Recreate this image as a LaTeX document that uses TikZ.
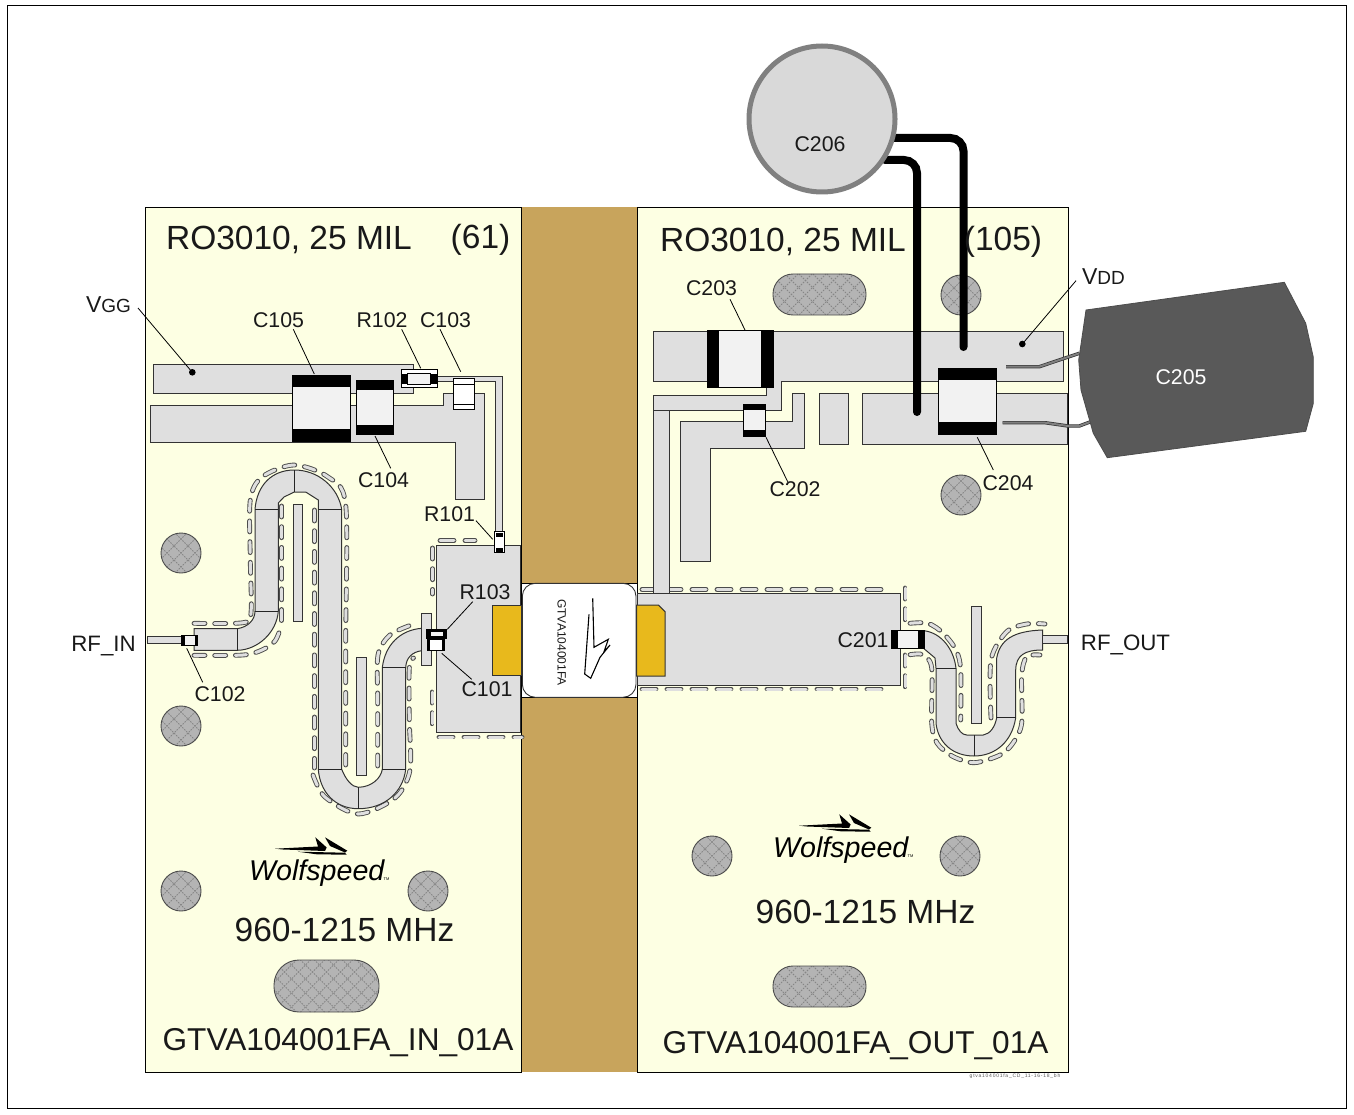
\documentclass[tikz,border=0pt]{standalone}
\usepackage{fontspec}
\setmainfont{Liberation Sans}
\definecolor{board}{HTML}{FDFFE3}
\definecolor{brownc}{HTML}{C8A45C}
\definecolor{goldc}{HTML}{E8B91C}
\definecolor{tracec}{HTML}{DFDFDF}
\definecolor{bodyc}{HTML}{F2F2F2}
\definecolor{viac}{HTML}{B4B4B4}
\definecolor{hatchc}{HTML}{868686}
\definecolor{capg}{HTML}{595959}
\tikzset{
  boardbox/.style={fill=board,draw=black,line width=1},
  trace/.style={fill=tracec,draw=black!80,line width=1},
  divider/.style={draw=black!85,line width=1},
  partbody/.style={fill=bodyc,draw=black,line width=1},
  partwhite/.style={fill=white,draw=black,line width=1},
  partcap/.style={fill=black},
  goldpad/.style={fill=goldc,draw=black!80,line width=1},
  leader/.style={draw=black,line width=0.8},
  slot/.style={draw=black!70,line width=4.8,line cap=round,dash pattern=on 11 off 9.7,
     postaction={draw=tracec,line width=3,line cap=round,dash pattern=on 11 off 9.7}},
  slotlong/.style={draw=black!70,line width=4.8,line cap=round,dash pattern=on 14 off 11,
     postaction={draw=tracec,line width=3,line cap=round,dash pattern=on 14 off 11}},
  wire/.style={draw=black,line width=8,line cap=round,rounded corners=13},
  lead/.style={draw=black!80,line width=3.4,postaction={draw=black!50,line width=2}},
  lab/.style={font=\fontsize{21.3}{24}\selectfont,text=black!90,inner sep=0},
  big/.style={font=\fontsize{33.5}{38}\selectfont,text=black!90,inner sep=0},
  bigcode/.style={font=\fontsize{31.6}{38}\selectfont,text=black!90,inner sep=0},
  rflab/.style={font=\fontsize{22.3}{24}\selectfont,text=black!90,inner sep=0},
  vlab/.style={font=\fontsize{23}{24}\selectfont,text=black!90,inner sep=0},
}
\newcommand{\hatched}[3]{%
  \fill[viac] #3;
  \begin{scope}
    \clip #3;
    \foreach \k in {-7,...,7}{
      \draw[hatchc,line width=0.8,dash pattern=on 1.6 off 1.2] ({#1+\k*14-70},{#2-70}) -- ({#1+\k*14+70},{#2+70});
      \draw[hatchc,line width=0.8,dash pattern=on 1.6 off 1.2] ({#1+\k*14+70},{#2-70}) -- ({#1+\k*14-70},{#2+70});
    }
  \end{scope}
  \draw[black!70,line width=0.9] #3;
}
\newcommand{\via}[2]{\hatched{#1}{#2}{(#1,#2) circle[radius=20]}}
\newcommand{\oblong}[5]{\hatched{(#1+#3)/2}{(#2+#4)/2}{[rounded corners=#5] (#1,#2) rectangle (#3,#4)}}
\newcommand{\logo}[3]{%
  \begin{scope}[shift={(#1,#2)}]
    \fill[black] (275,848.7) -- (318,846.5) -- (315.3,837.3) -- (326.7,847.5) -- (325,851) -- (283,849.5) -- cycle;
    \fill[black] (325,837.3) -- (347.3,850.7) -- (345,852.5) -- (330,846) -- cycle;
    \fill[black] (298,851.7) -- (345,852.7) -- (346.7,854.7) -- (316.7,854.3) -- cycle;
    \node[inner sep=0,anchor=base west,font=\fontsize{28.6}{30}\selectfont\itshape,text=black] (#3) at (249,880.5) {Wolfspeed};
    \node[inner sep=0,anchor=base west,font=\fontsize{4}{5}\selectfont,text=black] (#3tm) at (383.5,880.5) {TM};
  \end{scope}
}
\begin{document}
\begin{tikzpicture}[x=1pt,y=-1pt]
\useasboundingbox (0,0) rectangle (1354,1115);
\fill[white] (0,0) rectangle (1354,1115);
\draw[black,line width=1] (7.5,5.5) rectangle (1346,1108);
% boards
\fill[brownc] (521,207.5) rectangle (637,1072);
\draw[boardbox] (145.5,207.5) rectangle (521,1072);
\draw[boardbox] (637,207.5) rectangle (1068,1072);
% vias
\via{181}{553}\via{181}{726}\via{181}{891}\via{428}{891}
\via{961}{295}\via{961}{495}\via{712}{856}\via{960}{856}
\oblong{274}{960}{379}{1012}{25}
\oblong{773}{274}{866}{315}{20}
\oblong{773}{966}{866}{1007}{20}
% ---------- input side
\draw[trace] (153.3,364.3) rectangle (413,393.7);
\draw[trace] (150.7,405) -- (443.3,405) -- (443.3,393.7) -- (484.3,393.7) -- (484.3,499) -- (455,499) -- (455,442) -- (150.7,442) -- cycle;
% meander
\draw[slot] plot[smooth,tension=0.5] coordinates {(194,655.3) (243,655) (262,650) (275,641) (281,627)};
\draw[slot] plot[smooth,tension=0.5] coordinates {(194,623.3) (243,622.7) (251,613) (250.3,560) (250.3,500) (262,477) (294,465) (328,477) (345.7,505) (345.7,640) (345.7,765)};
\draw[slot] (281.7,506) -- (281.7,621);
\draw[slot] (314.3,510) -- (314.3,640) -- (314.3,768) ;
\draw[slot] plot[smooth,tension=0.5] coordinates {(313,775) (325,797) (358.3,814) (395,798) (410,770) (409.3,720) (409.3,668) (413.5,658)};
\draw[slot] plot[smooth,tension=0.5] coordinates {(377.7,766) (377.7,700) (378,655) (390,635) (410,625.5)};
\draw[trace] (194,628.7) -- (237.3,628.7) .. controls (248,627) and (255,620) .. (255,611) -- (255,509.3)
  .. controls (257,485) and (272,470) .. (294.3,470) .. controls (318,470) and (338,487) .. (341.7,509.3)
  -- (341.7,769.3) .. controls (346,780) and (352,787) .. (358.3,787.3) .. controls (372,787) and (381,778) .. (382.3,769.3)
  -- (382.3,667.7) .. controls (385,645) and (400,630) .. (421.7,628.3) -- (421.7,650.7) .. controls (412,652) and (406,658) .. (405.7,667.7)
  -- (405.7,769.3) .. controls (403,792) and (385,808.7) .. (358.3,808.7) .. controls (335,808.7) and (320,792) .. (318.3,769.3)
  -- (318.3,509.3) -- (318.3,500) -- (305.7,492) -- (294.3,492) -- (284,497) -- (278.3,503) -- (278.3,611)
  .. controls (277,632) and (258,650) .. (237.3,650.3) -- (194,650.3) -- cycle;
\draw[divider] (237.3,628.7) -- (237.3,650.3);
\draw[divider] (255,611) -- (278.3,611);
\draw[divider] (255,509.3) -- (278.3,509.3);
\draw[divider] (294.3,470) -- (294.3,492);
\draw[divider] (318.3,509.3) -- (341.7,509.3);
\draw[divider] (318.3,769.3) -- (341.7,769.3);
\draw[divider] (358.3,787.3) -- (358.3,808.7);
\draw[divider] (382.3,769.3) -- (405.7,769.3);
\draw[divider] (382.3,667.7) -- (405.7,667.7);
\draw[trace] (293.3,504) rectangle (302.7,621.3);
\draw[trace] (356.7,657.7) rectangle (366.7,775.3);
% output pad input end
\draw[trace] (147.3,636) rectangle (181.7,643);
\draw[partbody] (181.7,635) rectangle (197.3,645);
\fill[partcap] (181.7,635) rectangle (184.5,645);
\fill[partcap] (195,635) rectangle (197.3,645);
% big input pad + slots
\draw[slot] (432.7,548) -- (432.7,594);
\draw[slotlong] (440,540.7) -- (475,540.7);
\draw[slot] (432,692) -- (432,727);
\draw[slotlong] (439,737) -- (522,737);
\draw[trace] (436.7,545.3) rectangle (520,732.3);
\draw[trace] (421.7,613.3) rectangle (431,665.3);
\draw[goldpad] (492.7,605) rectangle (521.7,675.5);
% VGG parts
\draw[partbody] (292.7,375.7) rectangle (350,441.3);
\fill[partcap] (292.7,375.7) rectangle (350,387.3);
\fill[partcap] (292.7,429.3) rectangle (350,441.3);
\draw[partbody] (356,380.7) rectangle (393.3,434);
\fill[partcap] (356,380.7) rectangle (393.3,390);
\fill[partcap] (356,424.7) rectangle (393.3,434);
\draw[trace] (437,376.3) -- (502.3,376.3) -- (502.3,533) -- (495.7,533) -- (495.7,381.7) -- (437,381.7) -- cycle;
\draw[partwhite,line width=0.8] (401.3,369.7) rectangle (437,387.3);
\fill[partcap] (401.3,373.5) rectangle (437,384);
\draw[partbody,line width=0.5] (407.7,373.5) rectangle (430.5,384);
\draw[partwhite,line width=0.8] (453.7,378.7) rectangle (474.3,409.3);
\draw[black,line width=1] (453.7,384) -- (474.3,384) (453.7,404) -- (474.3,404);
\draw[partwhite,line width=0.8] (494.3,531.7) rectangle (504.3,552.3);
\fill[partcap] (495.5,533) rectangle (503.2,537);
\fill[partcap] (495.5,548) rectangle (503.2,552);
\draw[partwhite,line width=0.8] (426.7,629.3) rectangle (446,638.7);
\fill[partcap] (426.7,630) rectangle (446,638.5);
\draw[partbody,line width=0.5] (430,631.5) rectangle (443,636.5);
\draw[partwhite,line width=0.8] (427.3,639.3) rectangle (444,650.7);
\fill[partcap] (427.3,639.3) rectangle (429.8,650.7);
\fill[partcap] (441.5,639.3) rectangle (444,650.7);
% ---------- package
\fill[white] (522,583.3) rectangle (636.5,697.3);
\draw[black,line width=1] (521,583.3) -- (637,583.3) (521,697.3) -- (637,697.3);
\draw[black!80,line width=0.9,rounded corners=13] (522.3,583.3) rectangle (636,697.3);
\node[rotate=-90,inner sep=0,font=\fontsize{12}{13}\selectfont,text=black!90] (pkg) at (561.7,642.5) {GTVA104001FA};
\draw[black,line width=1.1,line join=miter] (592.7,598.3) -- (594,647.3) -- (608.3,639.3) -- (604,651.7) -- (610,645) -- (600,657.3) -- (590.7,678.3) -- (584.7,674) -- (589,614.3);
% ---------- output side
\draw[slotlong] (642,589.3) -- (888,589.3);
\draw[slotlong] (642,689) -- (888,689);
\draw[slot] (905,588) -- (905,625);
\draw[slot] (905,655) -- (905,693);
\draw[trace] (637,593.3) rectangle (900.7,685.3);
\draw[goldpad] (636.7,605) -- (658.3,605) -- (665,611.7) -- (665,676) -- (636.7,676) -- cycle;
\draw[slot] plot[smooth,tension=0.5] coordinates {(910,623.3) (928,623.3) (943,633) (956,650) (960.7,670) (960.7,720)};
\draw[slot] plot[smooth,tension=0.5] coordinates {(910,654.7) (923,654.7) (931.7,668) (931.7,723) (937,743) (952,756) (974,762.7) (1000,755) (1013,743) (1021.7,723) (1021.7,675) (1026.7,656.7) (1040,655)};
\draw[slot] plot[smooth,tension=0.5] coordinates {(991,718) (991,660) (1006.7,631.7) (1026.7,624) (1045,624)};
\draw[trace] (924,630.7) .. controls (942,633) and (954,650) .. (956,668.3) -- (956,723.3)
  .. controls (958,730) and (962,735) .. (966.7,735) -- (983.3,735) .. controls (990,734) and (995,727) .. (996.7,717.7)
  -- (996.7,658) .. controls (1000,640) and (1013,631) .. (1042.7,630) -- (1042.7,650) .. controls (1025,650) and (1016,655) .. (1015.7,670)
  -- (1015.7,717.7) .. controls (1012,742) and (995,756) .. (974,756) .. controls (952,756) and (938,742) .. (936,723.3)
  -- (936,668.3) -- (935,658) -- (924,648.7) -- cycle;
\draw[divider] (936,668.3) -- (956,668.3);
\draw[divider] (996.7,717.7) -- (1015.7,717.7);
\draw[divider] (974,735) -- (974,756);
\draw[trace] (971.7,606.7) rectangle (981.7,723.3);
\draw[trace] (1042.7,635.7) rectangle (1067.7,643.7);
\draw[partbody] (891.7,630.7) rectangle (924,648.7);
\fill[partcap] (891.7,630.7) rectangle (897.7,648.7);
\fill[partcap] (918.3,630.7) rectangle (924,648.7);
% VDD traces
\draw[trace] (653.3,395) -- (766,395) -- (766,381.7) -- (653.3,381.7) -- (653.3,331.7) -- (1063.3,331.7) -- (1063.3,381.7) -- (781.3,381.7) -- (781.3,410) -- (669,410) -- (669,593.3) -- (653.3,593.3) -- cycle;
\draw[black!80,line width=1] (653.3,410) -- (669,410);
\draw[trace] (680,421.7) -- (792.7,421.7) -- (792.7,393.3) -- (804.3,393.3) -- (804.3,448.7) -- (710.7,448.7) -- (710.7,561) -- (680,561) -- cycle;
\draw[trace] (819,393.3) rectangle (848,444.7);
\draw[trace] (862.7,393.3) rectangle (1067.7,444.7);
\draw[partbody] (707.7,330) rectangle (773.3,387.3);
\fill[partcap] (707.7,330) rectangle (719.3,387.3);
\fill[partcap] (761,330) rectangle (773.3,387.3);
\draw[partbody] (743.7,404.7) rectangle (765,436);
\fill[partcap] (743.7,404.7) rectangle (765,410);
\fill[partcap] (743.7,430) rectangle (765,436);
\draw[partbody] (938.7,368.7) rectangle (996,434);
\fill[partcap] (938.7,368.7) rectangle (996,380);
\fill[partcap] (938.7,422) rectangle (996,434);
% leads to C205
\draw[lead] (1006,366.7) -- (1039.3,366.7) -- (1079.3,353.3);
\draw[lead] (1002.7,422.7) -- (1045,422.7) -- (1068,426) -- (1079.3,426) -- (1090.7,421.7);
\draw[fill=capg,draw=black!70,line width=0.8] (1086,310) -- (1284.3,282.3) -- (1305.7,323.3) -- (1313.3,357.3) -- (1313.3,403.3) -- (1305.7,431.3) -- (1107.3,457.7) -- (1093.3,433.3) -- (1081,390) -- (1078.7,360) -- cycle;
\node[lab,text=white] (c205) at (1181,377.5) {C205};
% wires and C206
\draw[wire] (892,138) -- (963.5,138) -- (963.5,347);
\draw[wire] (885,160) -- (917,160) -- (917,412);
\draw[fill=black!15,draw=black!50,line width=5] (822,119) circle[radius=73];
\node[lab] (c206) at (820,144) {C206};
% dots
\fill[black] (192.3,372.3) circle[radius=3.3];
\fill[black] (1022.3,344) circle[radius=3.3];
% leaders
\draw[leader] (138,308) -- (192.3,372.3);
\draw[leader] (1076,280.7) -- (1022.3,344);
\draw[leader] (293.3,329.3) -- (314.3,374);
\draw[leader] (401.7,329.3) -- (420.7,368.3);
\draw[leader] (440,329.3) -- (460.7,371.7);
\draw[leader] (375,436) -- (390.7,468.3);
\draw[leader] (476,520.7) -- (492.7,539.3);
\draw[leader] (472.7,601.7) -- (447.3,629.3);
\draw[leader] (471.7,679.3) -- (441.7,653.3);
\draw[leader] (186.7,648.3) -- (202.7,682.3);
\draw[leader] (730,299.3) -- (745,330);
\draw[leader] (766,437.3) -- (787.7,481.7);
\draw[leader] (977.3,437.3) -- (993.3,470);
% labels
\node[big] (t1) at (289,239.5) {RO3010, 25 MIL};
\node[big] (t2) at (480.5,239.5) {(61)};
\node[big] (t3) at (783,241.5) {RO3010, 25 MIL};
\node[big] (t4) at (1003,241.5) {(105)};
\node[big] (t5) at (344.5,930) {960-1215 MHz};
\node[big] (t6) at (865.5,912) {960-1215 MHz};
\node[bigcode] (t7) at (338,1043) {GTVA104001FA\_IN\_01A};
\node[bigcode] (t8) at (855.5,1046) {GTVA104001FA\_OUT\_01A};
\node[lab] (c105) at (278.5,320) {C105};
\node[lab] (r102) at (382,320) {R102};
\node[lab] (c103) at (445.5,320) {C103};
\node[lab] (c104) at (383.5,480) {C104};
\node[lab] (r101) at (449.5,514) {R101};
\node[lab] (r103) at (485,592.5) {R103};
\node[lab] (c101) at (487,689.5) {C101};
\node[lab] (c102) at (220,694.5) {C102};
\node[lab] (c203) at (711.5,288) {C203};
\node[lab] (c202) at (795,489.5) {C202};
\node[lab] (c204) at (1008,483) {C204};
\node[lab] (c201) at (863,640) {C201};
\node[rflab] (rfin) at (103.5,646) {RF\_IN};
\node[rflab] (rfout) at (1125.5,644.5) {RF\_OUT};
\node[vlab] (vgg) at (108.5,305) {V{\fontsize{19}{20}\selectfont GG}};
\node[vlab] (vdd) at (1103.5,277) {V{\fontsize{19}{20}\selectfont DD}};
\logo{0}{0}{logoa}
\logo{524}{-23}{logob}
\node[inner sep=0,text=black!65,font=\fontsize{5}{6}\selectfont\addfontfeature{LetterSpace=15}] (fine) at (1015,1076) {gtva104001fa\_CD\_11-16-18\_bh};
\end{tikzpicture}
\end{document}
